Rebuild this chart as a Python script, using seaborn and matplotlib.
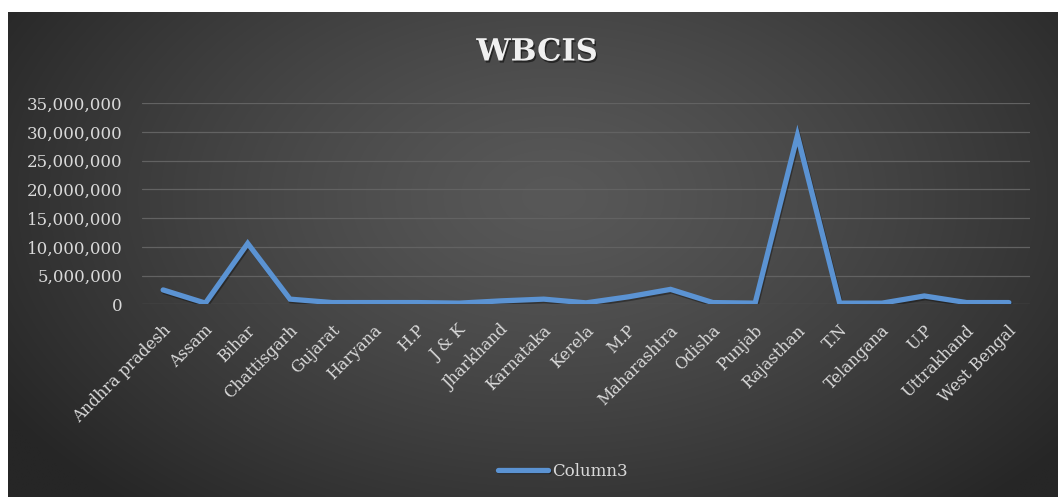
import numpy as np
import pandas as pd
import matplotlib
matplotlib.use("Agg")
import matplotlib.pyplot as plt
import matplotlib.patheffects as pe
import matplotlib.transforms as mtransforms
from matplotlib.ticker import FuncFormatter
import seaborn as sns

states = ["Andhra pradesh", "Assam", "Bihar", "Chattisgarh", "Gujarat", "Haryana",
          "H.P", "J & K", "Jharkhand", "Karnataka", "Kerela", "M.P", "Maharashtra",
          "Odisha", "Punjab", "Rajasthan", "T.N", "Telangana", "U.P", "Uttrakhand",
          "West Bengal"]
column3 = [2500000, 200000, 10600000, 900000, 300000, 300000,
           300000, 200000, 600000, 900000, 250000, 1300000, 2600000,
           300000, 200000, 29400000, 200000, 200000, 1450000, 300000,
           300000]
y_ticks = [0, 5000000, 10000000, 15000000, 20000000, 25000000, 30000000, 35000000]

df = pd.DataFrame({"State": states, "Column3": column3})

sns.set_theme(style="dark")
plt.rcParams["font.family"] = ["DejaVu Serif"]
text_col = "#d9d9d9"

W, H = 1058, 497
fig = plt.figure(figsize=(W / 100, H / 100), dpi=100, facecolor="white")

# dark chart area with a soft radial highlight
bg = fig.add_axes([8 / W, 0, 1 - 8 / W, 1 - 12 / H])
bg.set_axis_off()
gx, gy = np.meshgrid(np.linspace(0, 1, 400), np.linspace(0, 1, 200))
r = np.sqrt(((gx - 0.52) / 0.62) ** 2 + ((gy - 0.38) / 0.85) ** 2)
r = np.clip(r, 0, 1) ** 1.3
c0, c1 = 0x58 / 255, 0x26 / 255
shade = c0 + (c1 - c0) * r
bg.imshow(np.dstack([shade, shade, shade]), aspect="auto", extent=[0, 1, 1, 0],
          interpolation="bilinear")
bg.set_xlim(0, 1)
bg.set_ylim(1, 0)

ax = fig.add_axes([142 / W, 1 - 304.3 / H, (1030 - 142) / W, (304.3 - 103.3) / H])
ax.set_facecolor("none")
sns.lineplot(data=df, x="State", y="Column3", sort=False, ax=ax,
             color="#5b93d3", linewidth=3.8, label="Column3",
             path_effects=[pe.SimpleLineShadow(offset=(0.8, -1.2), shadow_color="black", alpha=0.35),
                           pe.Normal()])
line = ax.lines[0]
line.set_solid_joinstyle("miter")

ax.set_xlim(-0.5, len(states) - 0.5)
ax.set_ylim(0, 35000000)
ax.set_yticks(y_ticks)
ax.yaxis.set_major_formatter(FuncFormatter(lambda v, p: f"{v:,.0f}"))
ax.grid(axis="y", color="#626262", linewidth=0.9)
ax.grid(axis="x", visible=False)
for s in ax.spines.values():
    s.set_visible(False)
ax.set_xlabel("")
ax.set_ylabel("")
ax.tick_params(axis="y", length=0, pad=14, labelsize=12, labelcolor=text_col)
ax.tick_params(axis="x", length=0, pad=17, labelsize=11.5, labelcolor=text_col)
ax.set_xticks(range(len(states)))
ax.set_xticklabels(states, rotation=45, ha="right", va="center", rotation_mode="anchor")
shift = mtransforms.ScaledTranslation(5 / 100, 0, fig.dpi_scale_trans)
for lbl in ax.get_xticklabels():
    lbl.set_transform(lbl.get_transform() + shift)

ax.get_legend().remove()
fig.legend(handles=[line], labels=["Column3"], loc="center",
           bbox_to_anchor=(0.532, 1 - 471 / H), frameon=False, fontsize=12,
           labelcolor=text_col, handlelength=3.0, handletextpad=0.3)

fig.text(537 / W, 1 - 52 / H, "WBCIS", ha="center", va="center", fontsize=22,
         fontweight="bold", color="#f0f0f0",
         path_effects=[pe.withSimplePatchShadow(offset=(1, -1.5), shadow_rgbFace="black", alpha=0.5)])

fig.savefig("out.png", dpi=100, facecolor=fig.get_facecolor())
